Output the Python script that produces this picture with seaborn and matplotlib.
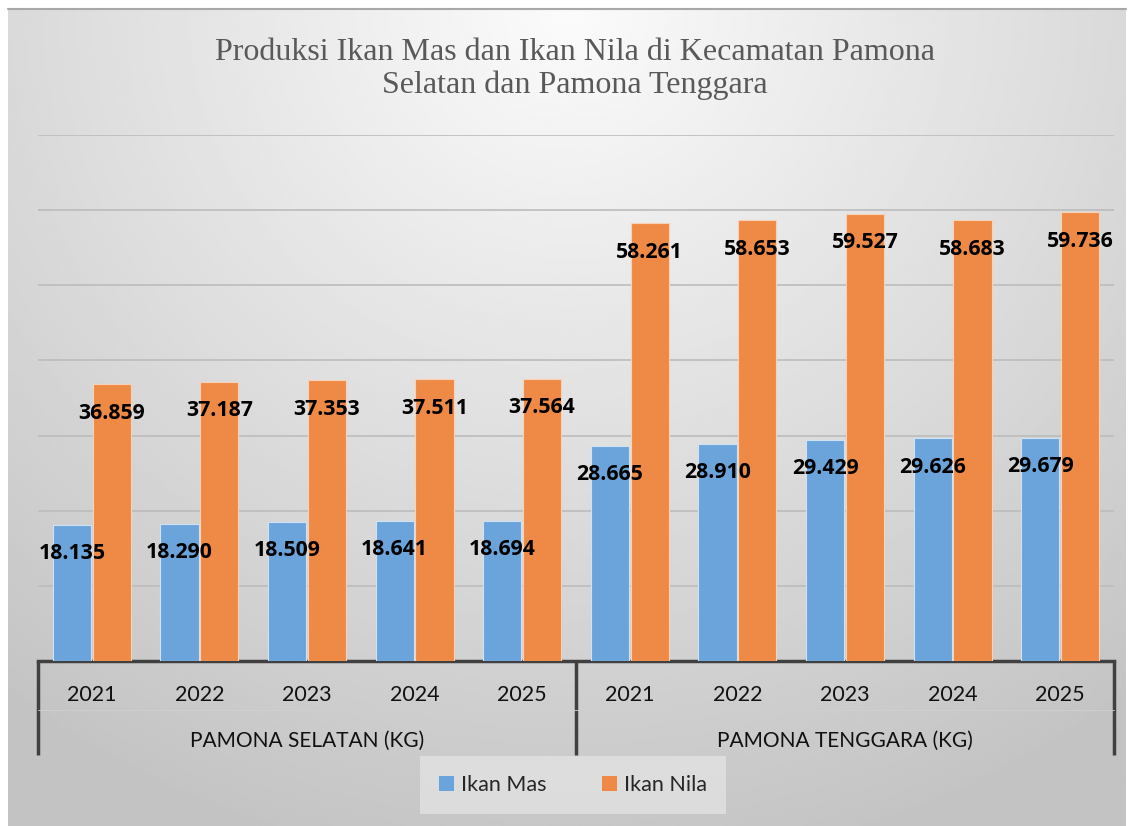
import numpy as np
import pandas as pd
import seaborn as sns
import matplotlib.pyplot as plt
import matplotlib.transforms as mtransforms
from matplotlib.patches import Patch

# data
groups = ['PAMONA SELATAN (KG)', 'PAMONA TENGGARA (KG)']
years = ['2021', '2022', '2023', '2024', '2025']
ikan_mas = [18135, 18290, 18509, 18641, 18694, 28665, 28910, 29429, 29626, 29679]
ikan_nila = [36859, 37187, 37353, 37511, 37564, 58261, 58653, 59527, 58683, 59736]
series = ['Ikan Mas', 'Ikan Nila']
colors = ['#6AA4DA', '#EE8A46']

cats = [f'{g}|{y}' for g in groups for y in years]
df = pd.DataFrame({
    'cat': cats * 2,
    'value': ikan_mas + ikan_nila,
    'series': [series[0]] * len(cats) + [series[1]] * len(cats),
})

sns.set_theme(style='white')
plt.rcParams['font.family'] = ['Lato', 'DejaVu Sans']

fig = plt.figure(figsize=(11.34, 8.26), dpi=100)
fig.patch.set_facecolor('white')

# gradient background like the office chart area
bg = fig.add_axes([8 / 1134, 0, 1118 / 1134, 817 / 826])
h, w = 300, 400
yy, xx = np.mgrid[0:h, 0:w]
r = np.sqrt(((xx / w - 0.5) * 1.3) ** 2 + (yy / h) ** 2)
grad = np.clip(251 - 52 * r, 195, 252) / 255
bg.imshow(grad, cmap='gray', vmin=0, vmax=1, aspect='auto', interpolation='bilinear')
bg.set_axis_off()
bg.set_zorder(-5)
fig.add_artist(plt.Line2D([8 / 1134, 1126 / 1134], [817 / 826, 817 / 826],
                          transform=fig.transFigure, color='#a8a8a8', lw=1.5))

ax = fig.add_axes([38 / 1134, 1 - 661 / 826, 1076 / 1134, 526 / 826])
ax.patch.set_alpha(0)
sns.barplot(data=df, x='cat', y='value', hue='series', palette=colors,
            saturation=1, width=0.74, gap=0.04, linewidth=0.8,
            legend=False, ax=ax, zorder=3)
for bars, ec in zip(ax.containers, ['#cfe2f4', '#f8d2b6']):
    for b in bars:
        b.set_edgecolor(ec)

ax.set_ylim(0, 70000)
ax.set_xlim(-0.5, 9.5)
ax.set_yticks(np.arange(10000, 70001, 10000))
ax.yaxis.grid(True, color='#bcbcbc', lw=1.2)
ax.set_axisbelow(True)
ax.tick_params(axis='y', left=False, labelleft=False)
ax.tick_params(axis='x', bottom=False, pad=11, labelsize=15.5, labelcolor='#111111')
ax.set_xticks(range(len(cats)))
ax.set_xticklabels(years * 2)
ax.set_xlabel('')
ax.set_ylabel('')
for s in ['top', 'left', 'right']:
    ax.spines[s].set_visible(False)
ax.spines['bottom'].set_color('#404040')
ax.spines['bottom'].set_linewidth(2.5)

# value labels inside bar tops
for bars in ax.containers:
    for b in bars:
        v = int(round(b.get_height()))
        ax.annotate(f'{v:,}'.replace(',', '.'),
                    (b.get_x() + b.get_width() / 2, b.get_height()),
                    xytext=(0, -29), textcoords='offset pixels',
                    ha='center', va='center', fontsize=15.3, fontweight='bold',
                    family='Open Sans', color='black', zorder=5)

# group separators and labels
trans = mtransforms.blended_transform_factory(ax.transData, ax.transAxes)
for xv in [-0.5, 4.5, 9.5]:
    ax.plot([xv, xv], [0, -94 / 526], transform=trans, color='#404040', lw=2.5,
            clip_on=False, solid_capstyle='butt')
ax.plot([-0.5, 9.5], [-49 / 526, -49 / 526], transform=trans, color='#d0d0d0',
        lw=0.6, clip_on=False)
for i, g in enumerate(groups):
    ax.text(i * 5 + 2, -80 / 526, g, transform=trans, ha='center', va='center',
            fontsize=15, color='#111111')

fig.text(575 / 1134, 1 - 69 / 826,
         'Produksi Ikan Mas dan Ikan Nila di Kecamatan Pamona\nSelatan dan Pamona Tenggara',
         ha='center', va='center', fontsize=23, color='#595959',
         family='Liberation Serif', linespacing=1.15)

handles = [Patch(facecolor=c, edgecolor='none') for c in colors]
leg = fig.legend(handles, series, loc='center', ncol=2,
                 bbox_to_anchor=(573 / 1134, 1 - 785 / 826),
                 frameon=True, fontsize=15.5, handlelength=0.7, handleheight=0.7,
                 handletextpad=0.3, columnspacing=2.6, borderpad=0.9,
                 borderaxespad=0, fancybox=False)
leg.get_frame().set_facecolor('#e2e2e2')
leg.get_frame().set_edgecolor('none')
leg.get_frame().set_alpha(0.8)

fig.savefig('out.png', dpi=100)
